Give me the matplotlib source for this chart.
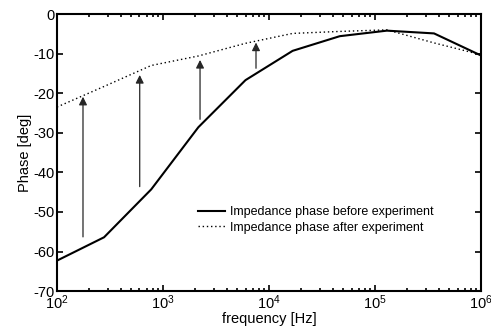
import numpy as np
import matplotlib
matplotlib.use("Agg")
import matplotlib.pyplot as plt

plt.rcParams['font.family'] = ['Liberation Sans', 'DejaVu Sans']
plt.rcParams['axes.unicode_minus'] = False

# measurement frequencies [Hz]
freq = [100, 278, 774, 2154, 5995, 16681, 46416, 129155, 359381, 1000000]
# phase before / after experiment [deg]
phase_before = [-62.3, -56.4, -44.3, -28.6, -16.7, -9.3, -5.6, -4.2, -4.9, -10.5]
phase_after = [-23.5, -18.3, -13.0, -10.6, -7.4, -4.9, -4.4, -4.0, -7.3, -10.3]

# arrows showing the shift
arrow_freq = [176, 603, 2234, 7530]
arrow_from = [-56.3, -43.6, -26.6, -13.7]
arrow_to = [-20.9, -15.4, -11.6, -7.2]

fig = plt.figure(figsize=(4.91, 3.26), dpi=100)
ax = fig.add_axes([0.116, 0.107, 0.864, 0.850])

ax.semilogx(freq, phase_before, color="k", lw=1.5,
            label="Impedance phase before experiment")
ax.semilogx(freq, phase_after, color="k", lw=1.0, ls=(0, (1, 2)),
            label="Impedance phase after experiment")

for f, y0, y1 in zip(arrow_freq, arrow_from, arrow_to):
    ax.annotate("", xy=(f, y1), xytext=(f, y0),
                arrowprops=dict(arrowstyle="-|>", color="0.15", lw=0.9,
                                mutation_scale=12, shrinkA=0, shrinkB=0))

ax.set_xlim(1e2, 1e6)
ax.set_ylim(-70, 0)
ax.set_yticks(np.arange(-70, 1, 10))
ax.set_xlabel("frequency [Hz]", fontsize=10.5, labelpad=0)
ax.set_ylabel("Phase [deg]", fontsize=10.5, labelpad=1)

ax.tick_params(which="both", direction="in", top=True, right=True,
               labelsize=10.5, width=1.2, pad=2)
ax.tick_params(which="major", length=4)
ax.tick_params(which="minor", length=2.5)
for s in ax.spines.values():
    s.set_linewidth(1.5)

ax.legend(loc="lower right", bbox_to_anchor=(0.915, 0.166), frameon=False,
          fontsize=9, handlelength=2.2, handletextpad=0.4, labelspacing=0.3)

fig.savefig("out.png", dpi=100)
